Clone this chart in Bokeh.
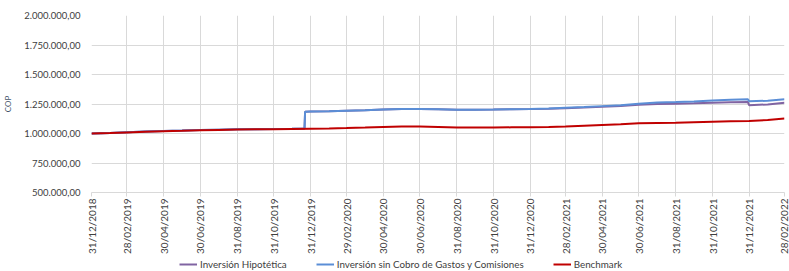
import math
import pandas as pd
from bokeh.plotting import figure
from bokeh.layouts import column
from bokeh.models import FixedTicker, Legend, LegendItem, DatetimeTickFormatter
from bokeh.embed import file_html
from bokeh.resources import INLINE

# ---- data ----
bench_dates = ["2018-12-31", "2019-01-31", "2019-02-28", "2019-03-31", "2019-04-30", "2019-05-31",
               "2019-06-30", "2019-07-31", "2019-08-31", "2019-09-30", "2019-10-31", "2019-11-30",
               "2019-12-31", "2020-01-31", "2020-02-29", "2020-03-31", "2020-04-30", "2020-05-31",
               "2020-06-30", "2020-07-31", "2020-08-31", "2020-09-30", "2020-10-31", "2020-11-30",
               "2020-12-31", "2021-01-31", "2021-02-28", "2021-03-31", "2021-04-30", "2021-05-31",
               "2021-06-30", "2021-07-31", "2021-08-31", "2021-09-30", "2021-10-31", "2021-11-30",
               "2021-12-31", "2022-01-31", "2022-02-28"]
benchmark = [1000000, 1004000, 1009000, 1014000, 1019000, 1023000,
             1027000, 1030000, 1033000, 1035000, 1037000, 1039000,
             1041000, 1043000, 1046000, 1050000, 1056000, 1060000,
             1059000, 1055000, 1051000, 1050000, 1051000, 1052000,
             1052000, 1055000, 1060000, 1066000, 1072000, 1078000,
             1086000, 1089000, 1092000, 1096000, 1100000, 1104000,
             1106000, 1114000, 1128000]

inv_dates = ["2018-12-31", "2019-01-31", "2019-02-28", "2019-03-31", "2019-04-30", "2019-05-31",
             "2019-06-30", "2019-07-31", "2019-08-31", "2019-09-30", "2019-10-31", "2019-11-30",
             "2019-12-21", "2019-12-22", "2019-12-31", "2020-01-31", "2020-02-29", "2020-03-31",
             "2020-04-30", "2020-05-31", "2020-06-30", "2020-07-31", "2020-08-31", "2020-09-30",
             "2020-10-31", "2020-11-30", "2020-12-31", "2021-01-31", "2021-02-28", "2021-03-31",
             "2021-04-30", "2021-05-31", "2021-06-30", "2021-07-31", "2021-08-31", "2021-09-30",
             "2021-10-31", "2021-11-30", "2021-12-29", "2021-12-31", "2022-01-31", "2022-02-28"]
sin_cobro = [1000000, 1005000, 1011000, 1016000, 1021000, 1025000,
             1029000, 1032000, 1035000, 1037000, 1039000, 1041000,
             1043000, 1185000, 1186000, 1188000, 1192000, 1196000,
             1204000, 1208000, 1208000, 1206000, 1202000, 1202000,
             1203000, 1205000, 1208000, 1212000, 1218000, 1224000,
             1232000, 1240000, 1252000, 1262000, 1266000, 1272000,
             1280000, 1286000, 1290000, 1273000, 1278000, 1290000]
hipotetica = [1000000, 1005000, 1011000, 1016000, 1021000, 1025000,
              1029000, 1032000, 1035000, 1037000, 1039000, 1041000,
              1043000, 1185000, 1186000, 1188000, 1192000, 1196000,
              1204000, 1208000, 1208000, 1206000, 1202000, 1202000,
              1203000, 1205000, 1207000, 1210000, 1215000, 1220000,
              1226000, 1233000, 1244000, 1250000, 1252000, 1256000,
              1261000, 1264000, 1266000, 1240000, 1246000, 1260000]

x_ticks = ["2018-12-31", "2019-02-28", "2019-04-30", "2019-06-30", "2019-08-31", "2019-10-31",
           "2019-12-31", "2020-02-29", "2020-04-30", "2020-06-30", "2020-08-31", "2020-10-31",
           "2020-12-31", "2021-02-28", "2021-04-30", "2021-06-30", "2021-08-31", "2021-10-31",
           "2021-12-31", "2022-02-28"]
y_ticks = [500000, 750000, 1000000, 1250000, 1500000, 1750000, 2000000]
y_labels = ["500.000,00", "750.000,00", "1.000.000,00", "1.250.000,00",
            "1.500.000,00", "1.750.000,00", "2.000.000,00"]
series_names = ["Inversión Hipotética", "Inversión sin Cobro de Gastos y Comisiones", "Benchmark"]
series_colors = ["#8064a2", "#5b8ed6", "#c00000"]
y_axis_label = "COP"

# ---- main figure ----
FONT = "Lato"
bd = pd.to_datetime(bench_dates)
idt = pd.to_datetime(inv_dates)
xt = pd.to_datetime(x_ticks)

p = figure(width=789, height=256, x_axis_type="datetime",
           x_range=(xt[0], xt[-1]), y_range=(500000, 2000000),
           output_backend="svg", toolbar_location=None,
           min_border_left=91, min_border_right=5, min_border_top=15, min_border_bottom=64)
p.outline_line_color = None

p.line(idt, hipotetica, line_color=series_colors[0], line_width=2)
p.line(idt, sin_cobro, line_color=series_colors[1], line_width=2)
p.line(bd, benchmark, line_color=series_colors[2], line_width=2)

p.xaxis.ticker = FixedTicker(ticks=[t.value // 10**6 for t in xt])
p.xaxis.formatter = DatetimeTickFormatter(days="%d/%m/%Y", months="%d/%m/%Y", years="%d/%m/%Y")
p.xaxis.major_label_orientation = math.pi / 2
p.xaxis.major_label_text_font = FONT
p.xaxis.major_label_text_font_size = "10px"
p.xaxis.major_label_text_color = "#404040"
p.xaxis.axis_line_color = "#d9d9d9"
p.xaxis.major_tick_line_color = "#d9d9d9"
p.xaxis.major_tick_in = 0
p.xaxis.major_tick_out = 4
p.xaxis.minor_tick_line_color = None
p.xaxis.major_label_standoff = 2

p.yaxis.ticker = FixedTicker(ticks=y_ticks)
p.yaxis.major_label_overrides = {v: s for v, s in zip(y_ticks, y_labels)}
p.yaxis.major_label_text_font = FONT
p.yaxis.major_label_text_font_size = "9.5px"
p.yaxis.major_label_text_color = "#404040"
p.yaxis.axis_line_color = None
p.yaxis.major_tick_line_color = None
p.yaxis.minor_tick_line_color = None
p.yaxis.major_tick_in = 0
p.yaxis.major_tick_out = 0
p.yaxis.major_label_standoff = 11
p.yaxis.axis_label = y_axis_label
p.yaxis.axis_label_text_font = FONT
p.yaxis.axis_label_text_font_size = "8px"
p.yaxis.axis_label_text_font_style = "normal"
p.yaxis.axis_label_text_color = "#44546a"
p.yaxis.axis_label_standoff = 8

p.xgrid.grid_line_color = "#d9d9d9"
p.ygrid.grid_line_color = "#d9d9d9"

# ---- legend strip (frame aligned with the main frame by the column layout) ----
lg = figure(width=789, height=15, x_range=(0, 1), y_range=(0, 1),
            x_axis_type=None, y_axis_type=None,
            output_backend="svg", toolbar_location=None, min_border=0)
lg.outline_line_color = None
lg.grid.visible = False
items = []
for name, col in zip(series_names, series_colors):
    # off-screen proxy lines, only used to draw the legend swatches
    r = lg.line(x=[-2, -1], y=[-2, -1], line_color=col, line_width=2)
    items.append(LegendItem(label=name, renderers=[r]))
legend = Legend(items=items, orientation="horizontal", location=(88, 1),
                label_text_font=FONT, label_text_font_size="9.8px", label_text_color="#404040",
                glyph_width=18, glyph_height=10, spacing=29, padding=0, margin=0,
                label_standoff=3, border_line_color=None, background_fill_alpha=0)
lg.add_layout(legend, "center")

layout = column(p, lg, spacing=0)
open("out.html", "w").write(file_html(layout, INLINE))
